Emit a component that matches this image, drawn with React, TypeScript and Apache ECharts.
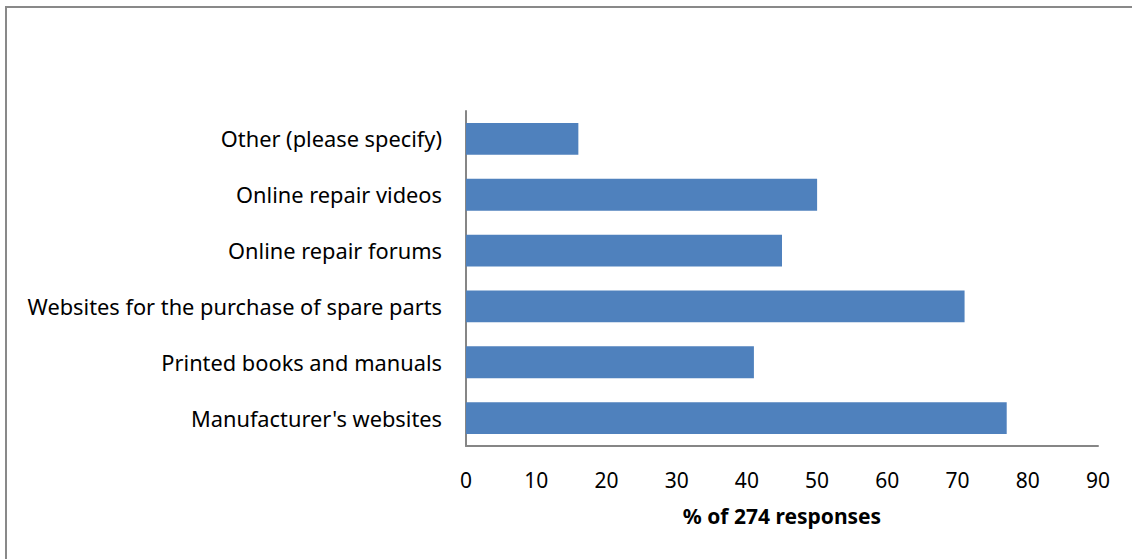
import React, { useEffect, useRef } from "react";
import * as echarts from "echarts";

const categories = [
  "Manufacturer's websites",
  "Printed books and manuals",
  "Websites for the purchase of spare parts",
  "Online repair forums",
  "Online repair videos",
  "Other (please specify)",
];
const values = [77, 41, 71, 45, 50, 16];
const axisTitle = "% of 274 responses";

const FONT = "'Noto Sans', sans-serif";

export default function App() {
  const ref = useRef<HTMLDivElement>(null);
  useEffect(() => {
    if (!ref.current) return;
    const chart = echarts.init(ref.current, undefined, { renderer: "svg" });
    chart.setOption({
      animation: false,
      backgroundColor: "#ffffff",
      textStyle: { fontFamily: FONT },
      graphic: [
        {
          type: "rect",
          shape: { x: 6, y: 7, width: 1200, height: 700 },
          style: { fill: "none", stroke: "#898989", lineWidth: 2 },
          silent: true,
        },
      ],
      grid: { left: 466, right: 34, top: 111, bottom: 113 },
      xAxis: {
        type: "value",
        min: 0,
        max: 90,
        interval: 10,
        splitLine: { show: false },
        axisTick: { show: false },
        axisLine: { show: true, lineStyle: { color: "#868686", width: 2 } },
        axisLabel: { color: "#000", fontSize: 21, fontFamily: FONT, margin: 23 },
        name: axisTitle,
        nameLocation: "middle",
        nameGap: 59,
        nameTextStyle: { color: "#000", fontSize: 21, fontWeight: "bold", fontFamily: FONT },
      },
      yAxis: {
        type: "category",
        data: categories,
        axisTick: { show: false },
        axisLine: { show: true, lineStyle: { color: "#868686", width: 2 } },
        axisLabel: { color: "#000", fontSize: 21.8, fontFamily: FONT, margin: 24 },
      },
      series: [
        {
          type: "bar",
          data: values,
          barCategoryGap: "43%",
          itemStyle: { color: "#4F81BD" },
        },
      ],
    });
    return () => chart.dispose();
  }, []);
  return (
    <div
      ref={ref}
      style={{ position: "fixed", left: 0, top: 0, width: 1132, height: 559 }}
    />
  );
}
